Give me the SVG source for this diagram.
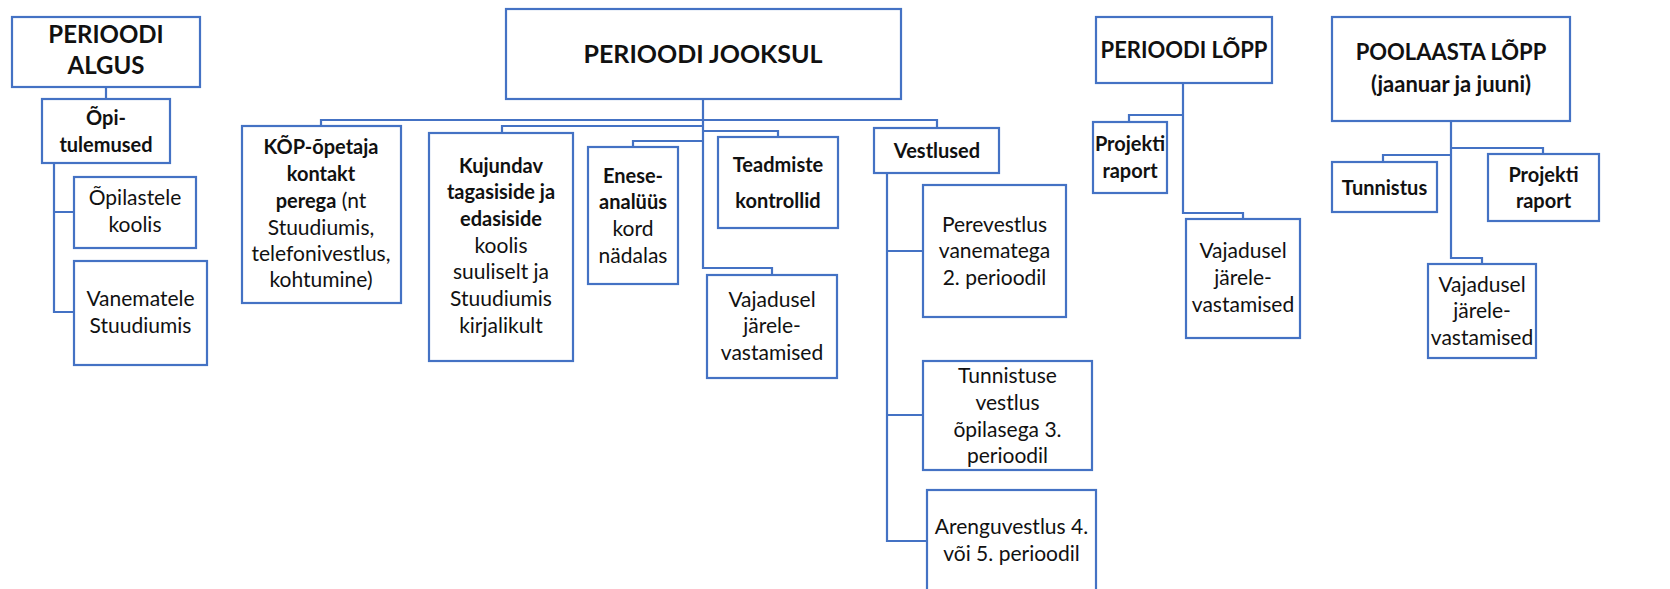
<svg xmlns="http://www.w3.org/2000/svg" width="1670" height="589" viewBox="0 0 1670 589">
<style>
rect{fill:#fff;stroke:#4472C4;stroke-width:2.2}
#connectors path{fill:none;stroke:#4472C4;stroke-width:2.2}
text{font-family:Lato,"Open Sans",sans-serif;font-size:21px;fill:#111;text-anchor:middle}
.b{font-weight:bold;font-size:20px}
.h{font-weight:bold;font-size:24px}
</style>
<rect x="0" y="0" width="1670" height="589" style="stroke:none"/>
<g id="connectors">
<path d="M106 87V99"/>
<path d="M54 163V312H74M54 212H74"/>
<path d="M703 99V268H772V275"/>
<path d="M321 126V120H937V128"/>
<path d="M502 133V126H703"/>
<path d="M703 131H778V137"/>
<path d="M633 147V141H703"/>
<path d="M887 173V541H927M887 251H923M887 415H923"/>
<path d="M1183 83V213H1243V219M1183 115H1129V122"/>
<path d="M1451 121V258H1482V264M1451 148H1543V154M1451 155H1383V162"/>
</g>
<g id="algus"><rect x="12" y="17" width="188" height="70"/><text class="h" x="106" y="43">PERIOODI</text><text class="h" x="106" y="74">ALGUS</text></g>
<g id="opitulemused"><rect x="42" y="99" width="128" height="64"/><text class="b" x="106" y="125">Õpi-</text><text class="b" x="106" y="152">tulemused</text></g>
<g id="opilastele"><rect x="74" y="177" width="122" height="71"/><text x="135" y="205">Õpilastele</text><text x="135" y="232">koolis</text></g>
<g id="vanematele"><rect x="74" y="261" width="133" height="104"/><text x="140.5" y="306">Vanematele</text><text x="140.5" y="333">Stuudiumis</text></g>
<g id="jooksul"><rect x="506" y="9" width="395" height="90"/><text class="h" x="703" y="63" style="font-size:25px">PERIOODI JOOKSUL</text></g>
<g id="kop"><rect x="242" y="126" width="159" height="177"/>
<text class="b" x="321" y="154">KÕP-õpetaja</text><text class="b" x="321" y="181">kontakt</text><text x="321" y="208"><tspan class="b">perega</tspan> (nt</text><text x="321" y="235">Stuudiumis,</text><text x="321" y="261">telefonivestlus,</text><text x="321" y="287">kohtumine)</text></g>
<g id="kujundav"><rect x="429" y="133" width="144" height="228"/>
<text class="b" x="501" y="173">Kujundav</text><text class="b" x="501" y="199">tagasiside ja</text><text class="b" x="501" y="226">edasiside</text><text x="501" y="253">koolis</text><text x="501" y="279">suuliselt ja</text><text x="501" y="306">Stuudiumis</text><text x="501" y="333">kirjalikult</text></g>
<g id="enese"><rect x="588" y="147" width="90" height="137"/>
<text class="b" x="633" y="183">Enese-</text><text class="b" x="633" y="209">analüüs</text><text x="633" y="236">kord</text><text x="633" y="263">nädalas</text></g>
<g id="teadmiste"><rect x="718" y="137" width="120" height="91"/><text class="b" x="778" y="172">Teadmiste</text><text class="b" x="778" y="208">kontrollid</text></g>
<g id="vajadusel1"><rect x="707" y="275" width="130" height="103"/><text x="772" y="307">Vajadusel</text><text x="772" y="333">järele-</text><text x="772" y="360">vastamised</text></g>
<g id="vestlused"><rect x="874" y="128" width="125" height="45"/><text class="b" x="937" y="158">Vestlused</text></g>
<g id="perevestlus"><rect x="923" y="185" width="143" height="132"/><text x="994.5" y="232">Perevestlus</text><text x="994.5" y="258">vanematega</text><text x="994.5" y="285">2. perioodil</text></g>
<g id="tunnistuse"><rect x="923" y="361" width="169" height="109"/><text x="1007.5" y="383">Tunnistuse</text><text x="1007.5" y="410">vestlus</text><text x="1007.5" y="437">õpilasega 3.</text><text x="1007.5" y="463">perioodil</text></g>
<g id="arenguvestlus"><rect x="927" y="490" width="169" height="120"/><text x="1011.5" y="534">Arenguvestlus 4.</text><text x="1011.5" y="561">või 5. perioodil</text></g>
<g id="lopp"><rect x="1096" y="17" width="176" height="66"/><text class="h" x="1184" y="58" style="font-size:22px">PERIOODI LÕPP</text></g>
<g id="projekti1"><rect x="1093" y="122" width="74" height="71"/><text class="b" x="1130" y="151">Projekti</text><text class="b" x="1130" y="178">raport</text></g>
<g id="vajadusel2"><rect x="1186" y="219" width="114" height="119"/><text x="1243" y="258">Vajadusel</text><text x="1243" y="285">järele-</text><text x="1243" y="312">vastamised</text></g>
<g id="poolaasta"><rect x="1332" y="17" width="238" height="104"/><text class="h" x="1451" y="60" style="font-size:22px">POOLAASTA LÕPP</text><text class="h" x="1451" y="92" style="font-size:22px">(jaanuar ja juuni)</text></g>
<g id="tunnistus"><rect x="1332" y="162" width="105" height="50"/><text class="b" x="1384.5" y="195">Tunnistus</text></g>
<g id="projekti2"><rect x="1488" y="154" width="111" height="67"/><text class="b" x="1543.5" y="182">Projekti</text><text class="b" x="1543.5" y="208">raport</text></g>
<g id="vajadusel3"><rect x="1428" y="264" width="108" height="94"/><text x="1482" y="292">Vajadusel</text><text x="1482" y="318">järele-</text><text x="1482" y="345">vastamised</text></g>
</svg>
